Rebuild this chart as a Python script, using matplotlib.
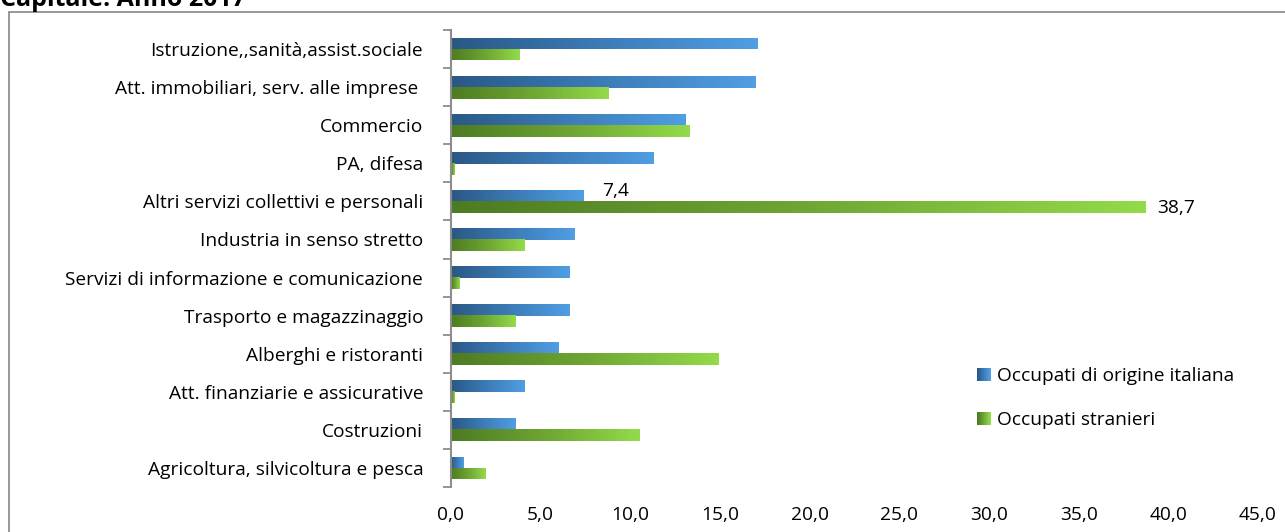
import numpy as np
import matplotlib
matplotlib.use("Agg")
import matplotlib.pyplot as plt
from matplotlib.colors import LinearSegmentedColormap
from matplotlib.patches import Rectangle
from matplotlib.legend_handler import HandlerBase

plt.rcParams['font.family'] = ['Open Sans', 'DejaVu Sans']

settori = [
    "Istruzione,,sanità,assist.sociale",
    "Att. immobiliari, serv. alle imprese ",
    "Commercio",
    "PA, difesa",
    "Altri servizi collettivi e personali",
    "Industria in senso stretto",
    "Servizi di informazione e comunicazione",
    "Trasporto e magazzinaggio",
    "Alberghi e ristoranti",
    "Att. finanziarie e assicurative",
    "Costruzioni",
    "Agricoltura, silvicoltura e pesca",
]
italiani = [17.1, 17.0, 13.1, 11.3, 7.4, 6.9, 6.6, 6.6, 6.0, 4.1, 3.6, 0.7]
stranieri = [3.8, 8.8, 13.3, 0.2, 38.7, 4.1, 0.5, 3.6, 14.9, 0.2, 10.5, 1.9]
serie = ["Occupati di origine italiana", "Occupati stranieri"]
x_ticks = [0, 5, 10, 15, 20, 25, 30, 35, 40, 45]

FS = 13.8

blu = LinearSegmentedColormap.from_list("blu", ["#2a5885", "#3d7cb8", "#509ee3"])
verde = LinearSegmentedColormap.from_list("verde", ["#4d7b22", "#6ea533", "#93db4a"])


def gradiente(ax, barre, cmap):
    # riempie ogni barra con un gradiente orizzontale lungo la sua lunghezza
    grad = np.linspace(0, 1, 256).reshape(1, -1)
    for b in barre:
        x0, y0 = b.get_x(), b.get_y()
        w, h = b.get_width(), b.get_height()
        im = ax.imshow(grad, extent=(x0, x0 + w, y0 + h, y0), cmap=cmap,
                       aspect='auto', interpolation='bilinear', zorder=2)
        im.set_clip_path(b)


class HandlerGradiente(HandlerBase):
    def __init__(self, cmap, n=20):
        super().__init__()
        self.cmap = cmap
        self.n = n

    def create_artists(self, legend, orig_handle, xdescent, ydescent,
                       width, height, fontsize, trans):
        pezzi = []
        for k in range(self.n):
            r = Rectangle((-xdescent + width * k / self.n, -ydescent),
                          width / self.n + 0.3, height,
                          facecolor=self.cmap(k / (self.n - 1)), edgecolor='none',
                          transform=trans)
            pezzi.append(r)
        return pezzi


fig = plt.figure(figsize=(12.85, 5.32), dpi=100)
W, H = 1285, 532
ax = fig.add_axes([451 / W, 1 - 487 / H, (1258 - 451) / W, (487 - 30) / H])

pos = np.arange(len(settori))
h = 0.31
b1 = ax.barh(pos - 0.145, italiani, height=h, facecolor='none', edgecolor='none')
b2 = ax.barh(pos + 0.145, stranieri, height=h, facecolor='none', edgecolor='none')
gradiente(ax, b1, blu)
gradiente(ax, b2, verde)

ax.set_xlim(0, 45)
ax.set_ylim(len(settori) - 0.5, -0.5)

ax.set_xticks(x_ticks)
ax.set_xticklabels([f"{v:.1f}".replace('.', ',') for v in x_ticks], fontsize=FS)
ax.tick_params(axis='x', length=0, pad=14)

ax.set_yticks(pos)
ax.set_yticklabels(settori, fontsize=FS)
ax.tick_params(axis='y', which='major', length=0, pad=20)
ax.set_yticks(np.arange(len(settori) + 1) - 0.5, minor=True)
ax.tick_params(axis='y', which='minor', length=6, width=1.3, color='#8c8c8c')

for s in ['top', 'right', 'bottom']:
    ax.spines[s].set_visible(False)
ax.spines['left'].set_color('#8c8c8c')
ax.spines['left'].set_linewidth(1.5)

# etichette dei valori per la voce "Altri servizi"
i = settori.index("Altri servizi collettivi e personali")
ax.annotate(f"{italiani[i]:.1f}".replace('.', ','), (italiani[i], pos[i] - 0.145),
            xytext=(32, 5), textcoords='offset pixels', ha='center', va='center',
            fontsize=FS)
ax.annotate(f"{stranieri[i]:.1f}".replace('.', ','), (stranieri[i], pos[i] + 0.145),
            xytext=(12, -1), textcoords='offset pixels', ha='left', va='center',
            fontsize=FS)

h1 = Rectangle((0, 0), 1, 1)
h2 = Rectangle((0, 0), 1, 1)
ax.legend([h1, h2], serie, loc='upper left',
          bbox_to_anchor=((960 - 451) / (1258 - 451), (487 - 350) / (487 - 30)),
          frameon=False, fontsize=FS, handlelength=0.68, handleheight=0.72,
          handletextpad=0.36, labelspacing=1.35,
          handler_map={h1: HandlerGradiente(blu), h2: HandlerGradiente(verde)})

# cornice del grafico
fig.patches.append(Rectangle((9 / W, -0.1), 1.2, 1.1 - 12 / H, transform=fig.transFigure,
                             fill=False, edgecolor='#868686', linewidth=1.2))
fig.text(0.0, 1 - 6 / H, "Capitale. Anno 2017", fontsize=18, fontweight='bold',
         va='baseline', ha='left')

fig.savefig("out.png", dpi=100)
